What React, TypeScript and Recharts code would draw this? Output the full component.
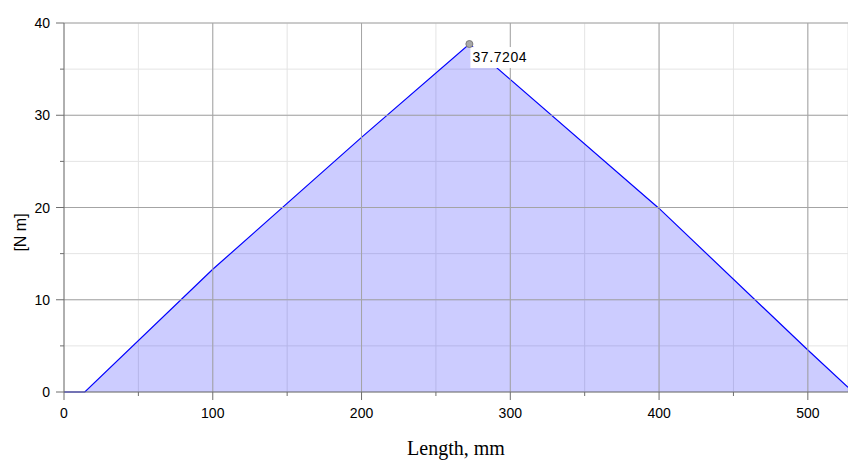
import {
  Area,
  AreaChart,
  CartesianGrid,
  ReferenceDot,
  ReferenceLine,
  XAxis,
  YAxis,
} from "recharts"

// Moment along the shaft.
const lengths = [0, 14, 100, 200, 272.5, 400, 500, 527]
const moments = [0, 0, 13.3, 27.6, 37.7204, 19.9, 4.55, 0.5]

const xTicks = [0, 50, 100, 150, 200, 250, 300, 350, 400, 450, 500]
const xMajor = [100, 200, 300, 400, 500]
const yTicks = [0, 5, 10, 15, 20, 25, 30, 35, 40]
const yMajor = [10, 20, 30, 40]

const peakX = 272.5
const peakY = 37.7204

const rows = lengths.map((x, i) => ({ x, m: moments[i] }))

const TICK_FONT = "'Liberation Sans', Arial, sans-serif"
const AXIS = "#6e6e6e"

function XTick(props: any) {
  const { x, y, payload } = props
  const major = payload.value % 100 === 0
  const axisY = y - 8 - 8
  return (
    <g>
      <line x1={x} x2={x} y1={axisY} y2={axisY + (major ? 8 : 4)} stroke={AXIS} />
      {major ? (
        <text x={x} y={y} dy="0.71em" textAnchor="middle" fontSize={14} fontFamily={TICK_FONT} fill="#000">
          {payload.value}
        </text>
      ) : null}
    </g>
  )
}

function YTick(props: any) {
  const { x, y, payload } = props
  const major = payload.value % 10 === 0
  const axisX = x + 6 + 8
  return (
    <g>
      <line x1={axisX - (major ? 8 : 4)} x2={axisX} y1={y} y2={y} stroke={AXIS} />
      {major ? (
        <text x={x} y={y} dy="0.36em" textAnchor="end" fontSize={14} fontFamily={TICK_FONT} fill="#000">
          {payload.value}
        </text>
      ) : null}
    </g>
  )
}

function YLabel(props: any) {
  const vb = props.viewBox
  const cx = vb.x + 20
  const cy = vb.y + vb.height / 2 + 25
  return (
    <text
      x={cx}
      y={cy}
      transform={`rotate(-90 ${cx} ${cy})`}
      textAnchor="middle"
      dominantBaseline="central"
      fontSize={16}
      fontFamily={TICK_FONT}
      fill="#000"
    >
      [N m]
    </text>
  )
}

function PeakMarker(props: any) {
  const { cx, cy } = props
  return (
    <g>
      <rect x={cx + 1} y={cy + 3} width={60} height={21} fill="#fff" />
      <circle cx={cx} cy={cy} r={3.5} fill="#a8a8a8" stroke="#7a7a7a" />
      <text x={cx + 3} y={cy + 13} dominantBaseline="central" fontSize={14} fontFamily={TICK_FONT} fill="#000" letterSpacing={0.6}>
        {peakY.toFixed(4)}
      </text>
    </g>
  )
}

export default function App() {
  return (
    <div style={{ position: "absolute", left: 0, top: 0, background: "#fff" }}>
      <AreaChart width={848} height={475} data={rows} margin={{ top: 23, right: 0, bottom: 0, left: 0 }}>
        <CartesianGrid stroke="#e4e4e4" />
        {xMajor.map((v) => (
          <ReferenceLine key={"x" + v} x={v} stroke="#a4a4a4" />
        ))}
        {yMajor.map((v) => (
          <ReferenceLine key={"y" + v} y={v} stroke="#a4a4a4" />
        ))}
        <XAxis
          dataKey="x"
          type="number"
          domain={[0, 527]}
          ticks={xTicks}
          allowDataOverflow
          height={83}
          tickSize={8}
          tickMargin={8}
          tickLine={false}
          tick={<XTick />}
          stroke={AXIS}
          label={{
            value: "Length, mm",
            position: "insideBottom",
            offset: 20,
            fontSize: 20,
            fontFamily: "'Liberation Serif', 'Times New Roman', serif",
            fill: "#000",
          }}
        />
        <YAxis
          type="number"
          domain={[0, 40]}
          ticks={yTicks}
          width={64}
          tickSize={8}
          tickMargin={6}
          tickLine={false}
          tick={<YTick />}
          stroke={AXIS}
          label={<YLabel />}
        />
        <Area
          type="linear"
          dataKey="m"
          stroke="#0000ff"
          strokeWidth={1.2}
          fill="#0000ff"
          fillOpacity={0.2}
          isAnimationActive={false}
        />
        <ReferenceDot x={peakX} y={peakY} r={3.5} shape={<PeakMarker />} />
      </AreaChart>
    </div>
  )
}
